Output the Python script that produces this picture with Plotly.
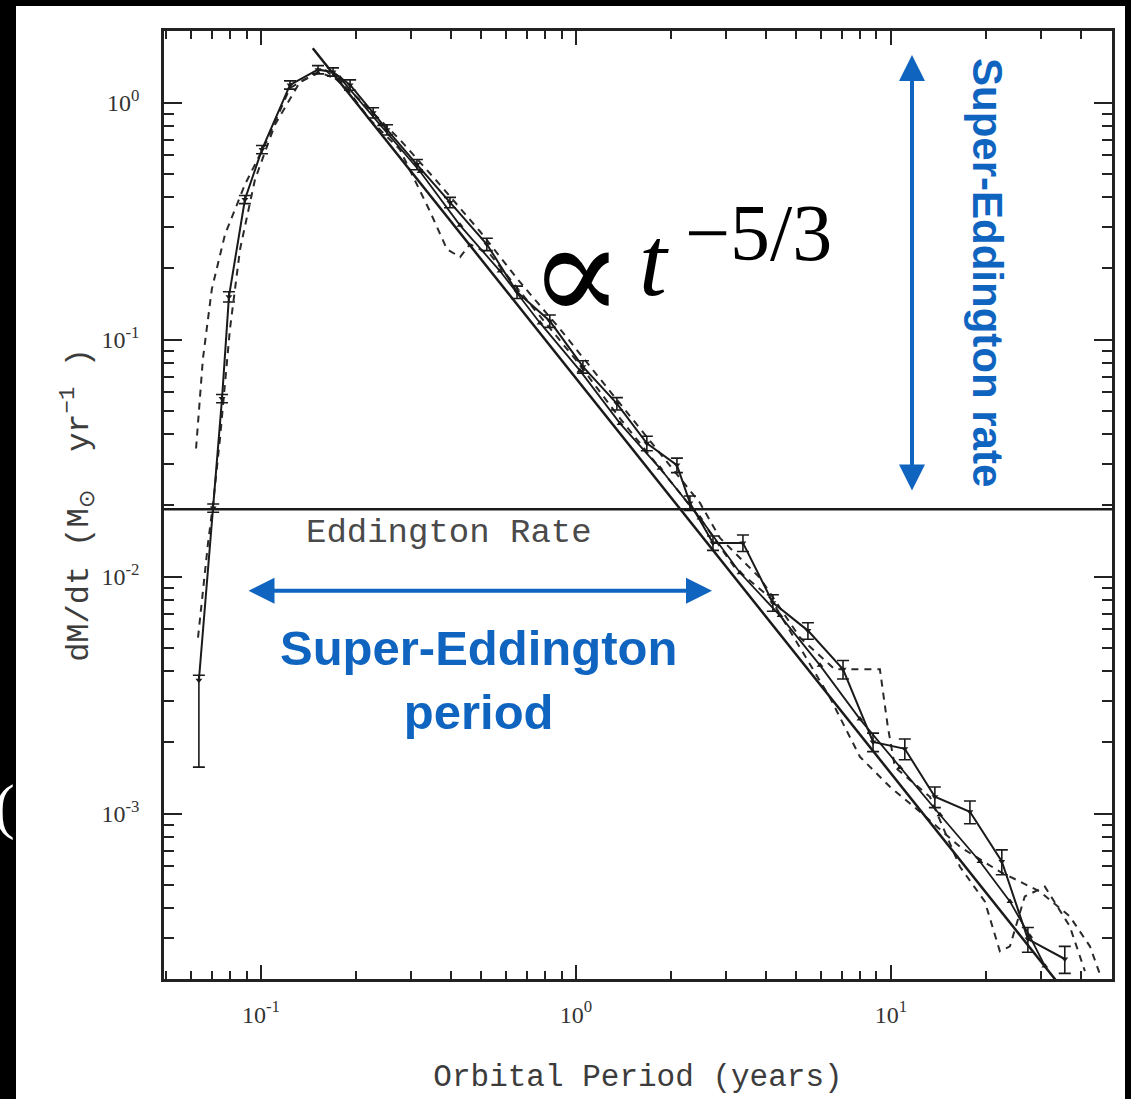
import plotly.graph_objects as go

# ---------------- data ----------------
# main simulation curve (solid, with error bars)
t_main = [0.0635, 0.0705, 0.0752, 0.0791, 0.0889, 0.1007, 0.1236, 0.1517, 0.1693,
          0.1918, 0.2270, 0.2512, 0.3127, 0.3981, 0.5212, 0.6501, 0.8260, 1.052,
          1.349, 1.679, 2.092, 2.301, 2.723, 3.390, 4.218, 5.452, 7.047, 8.776,
          11.07, 13.79, 17.82, 22.50, 27.22, 35.65]
mdot_main = [0.00366, 0.0195, 0.0565, 0.152, 0.391, 0.635, 1.19, 1.38, 1.35,
             1.19, 0.908, 0.770, 0.549, 0.380, 0.253, 0.159, 0.120, 0.0770,
             0.0538, 0.0366, 0.0296, 0.0205, 0.0139, 0.0139, 0.00778, 0.00593, 0.00407, 0.00201,
             0.00188, 0.00118, 0.00102, 0.000629, 0.000296, 0.000244]
err_hi_frac = [0.05, 0.04, 0.04, 0.05, 0.04, 0.04, 0.04, 0.04, 0.04, 0.05, 0.05, 0.05,
               0.05, 0.05, 0.06, 0.06, 0.06, 0.06, 0.06, 0.07, 0.07, 0.07, 0.07, 0.08,
               0.08, 0.08, 0.09, 0.09, 0.10, 0.10, 0.11, 0.12, 0.12, 0.13]
err_lo_frac = [0.57, 0.04, 0.04, 0.05, 0.04, 0.04, 0.04, 0.04, 0.04, 0.05, 0.05, 0.05,
               0.05, 0.05, 0.06, 0.06, 0.06, 0.06, 0.06, 0.07, 0.07, 0.07, 0.07, 0.08,
               0.08, 0.08, 0.09, 0.09, 0.10, 0.10, 0.11, 0.12, 0.12, 0.13]

# second solid curve (close to the power law)
t_second = [0.1782, 0.2388, 0.3199, 0.4285, 0.5741, 0.7691, 1.030, 1.380, 1.849, 2.476,
            3.318, 4.446, 5.957, 7.973, 10.68, 14.31, 19.17, 23.87, 27.61, 30.82]
mdot_second = [1.274, 0.808, 0.5129, 0.3041, 0.1950, 0.1178, 0.0741, 0.0444, 0.0287, 0.0177,
               0.0104, 0.00686, 0.00423, 0.00251, 0.00157, 0.000991, 0.000629, 0.000427,
               0.000304, 0.000228]

# dashed curve 1
t_dash1 = [0.0622, 0.0654, 0.0698, 0.0769, 0.0889, 0.1030, 0.1236, 0.1517, 0.1782, 0.2218,
           0.2761, 0.3440, 0.3893, 0.4285, 0.4603, 0.5333, 0.7145, 0.9932, 1.380, 1.849,
           2.476, 3.199, 4.130, 5.143, 6.398, 7.973, 9.931, 12.36, 16.56, 22.18, 29.72,
           36.98, 42.85, 46.06]
mdot_dash1 = [0.0348, 0.0832, 0.1637, 0.2788, 0.4520, 0.6665, 1.156, 1.349, 1.249, 0.8485,
              0.6346, 0.3483, 0.2412, 0.2233, 0.2531, 0.2298, 0.1417, 0.0832, 0.0466, 0.0287,
              0.0177, 0.0109, 0.00817, 0.00503, 0.00310, 0.00174, 0.00130, 0.00102, 0.000726,
              0.000570, 0.000470, 0.000369, 0.000276, 0.000211]

# dashed curve 2
t_dash2 = [0.0631, 0.0654, 0.0679, 0.0705, 0.0741, 0.0797, 0.0858, 0.0957, 0.1107, 0.1330,
           0.1596, 0.2061, 0.2761, 0.3697, 0.4954, 0.6637, 0.8892, 1.191, 1.596, 2.138,
           2.476, 2.864, 3.837, 5.143, 6.637, 9.226, 9.782, 10.30, 13.30, 16.56, 19.87,
           22.18, 23.87, 26.61, 30.82, 36.98, 41.30]
mdot_dash2 = [0.00554, 0.00899, 0.0139, 0.0205, 0.0384, 0.1112, 0.2412, 0.4748, 0.8083, 1.225,
              1.38, 1.029, 0.6992, 0.452, 0.2871, 0.1754, 0.1112, 0.0686, 0.0423, 0.0261,
              0.0205, 0.0146, 0.00990, 0.00554, 0.00407, 0.00407, 0.00232, 0.00157, 0.00118,
              0.000598, 0.000427, 0.000263, 0.000276, 0.000448, 0.000493, 0.000335, 0.000217]

# t^(-5/3) power law (end points)
t_fit = [0.146, 40.0]
mdot_fit = [1.70, 1.47e-4]

# Eddington rate
t_edd = [0.04, 60.0]
mdot_edd = [0.0193, 0.0193]

# axis ticks
x_major = [0.1, 1, 10]
x_major_text = ["10<sup>-1</sup>", "10<sup>0</sup>", "10<sup>1</sup>"]
x_minor = [0.05, 0.06, 0.07, 0.08, 0.09, 0.2, 0.3, 0.4, 0.5, 0.6, 0.7, 0.8, 0.9,
           2, 3, 4, 5, 6, 7, 8, 9, 20, 30, 40, 50]
y_major = [1e-3, 1e-2, 1e-1, 1]
y_major_text = ["10<sup>-3</sup>", "10<sup>-2</sup>", "10<sup>-1</sup>", "10<sup>0</sup>"]
y_minor = [3e-4, 4e-4, 5e-4, 6e-4, 7e-4, 8e-4, 9e-4,
           2e-3, 3e-3, 4e-3, 5e-3, 6e-3, 7e-3, 8e-3, 9e-3,
           2e-2, 3e-2, 4e-2, 5e-2, 6e-2, 7e-2, 8e-2, 9e-2,
           0.2, 0.3, 0.4, 0.5, 0.6, 0.7, 0.8, 0.9, 2]

# ---------------- figure ----------------
BLUE = "#0F64C0"
INK = "#1a1a1a"
GREY = "#3c3c3c"

fig = go.Figure()

fig.add_trace(go.Scatter(x=t_edd, y=mdot_edd, mode="lines",
                         line=dict(color=INK, width=2.5), showlegend=False, hoverinfo="skip"))
fig.add_trace(go.Scatter(x=t_dash1, y=mdot_dash1, mode="lines",
                         line=dict(color="#2a2a2a", width=2, dash="7px,6px"), showlegend=False))
fig.add_trace(go.Scatter(x=t_dash2, y=mdot_dash2, mode="lines",
                         line=dict(color="#2a2a2a", width=2, dash="7px,6px"), showlegend=False))
fig.add_trace(go.Scatter(x=t_fit, y=mdot_fit, mode="lines",
                         line=dict(color=INK, width=2.5), showlegend=False))
fig.add_trace(go.Scatter(x=t_second, y=mdot_second, mode="lines+markers",
                         line=dict(color=INK, width=1.8),
                         marker=dict(symbol="triangle-up", size=6, color=INK),
                         showlegend=False))
fig.add_trace(go.Scatter(
    x=t_main, y=mdot_main, mode="lines+markers",
    line=dict(color=INK, width=2),
    marker=dict(symbol="triangle-down", size=6, color=INK),
    error_y=dict(type="data", symmetric=False,
                 array=[m * f for m, f in zip(mdot_main, err_hi_frac)],
                 arrayminus=[m * f for m, f in zip(mdot_main, err_lo_frac)],
                 color=INK, thickness=1.6, width=6),
    showlegend=False))

axis_common = dict(type="log", showgrid=False, zeroline=False, showline=True,
                   linecolor="#222222", linewidth=2.5, mirror="ticks",
                   ticks="inside", tickcolor="#222222", tickwidth=2,
                   tickfont=dict(family="Liberation Serif", size=24, color="#333333"))

fig.update_xaxes(**axis_common, range=[-1.308, 1.702], tickmode="array",
                 tickvals=x_major, ticktext=x_major_text, ticklen=14,
                 ticklabelstandoff=12,
                 minor=dict(tickmode="array", tickvals=x_minor, ticks="inside",
                            ticklen=8, tickwidth=2, tickcolor="#222222"),
                 title=dict(text="Orbital Period (years)", standoff=38,
                            font=dict(family="Liberation Mono", size=31, color=GREY)))
fig.update_yaxes(**axis_common, range=[-3.697, 0.303], tickmode="array",
                 tickvals=y_major, ticktext=y_major_text, ticklen=18,
                 ticklabelstandoff=17,
                 minor=dict(tickmode="array", tickvals=y_minor, ticks="inside",
                            ticklen=10, tickwidth=2, tickcolor="#222222"),
                 title=dict(text="dM/dt (M<sub>⊙</sub>  yr<sup>−1</sup> )", standoff=2,
                            font=dict(family="Liberation Mono", size=32, color=GREY)))

annotations = [
    # Eddington label
    dict(text="Eddington Rate", x=(449 - 164) / 948, y=(983 - 535) / 952, xref="paper", yref="paper",
         showarrow=False, font=dict(family="Liberation Mono", size=34, color="#4a4a4a"),
         xanchor="center", yanchor="middle"),
    # power law label
    dict(text="∝", x=(576 - 164) / 948, y=(983 - 274) / 952, xref="paper", yref="paper",
         showarrow=False, font=dict(family="DejaVu Serif", size=140, color="black"),
         xanchor="center", yanchor="middle"),
    dict(text="<i>t</i>", x=(654 - 164) / 948, y=(983 - 262) / 952, xref="paper", yref="paper",
         showarrow=False, font=dict(family="Liberation Serif", size=100, color="black"),
         xanchor="center", yanchor="middle"),
    dict(text="−5/3", x=(758 - 164) / 948, y=(983 - 234) / 952, xref="paper", yref="paper",
         showarrow=False, font=dict(family="Liberation Serif", size=80, color="black"),
         xanchor="center", yanchor="middle"),
    # blue annotations
    dict(text="Super-Eddington rate", x=(987 - 164) / 948, y=(983 - 273) / 952,
         xref="paper", yref="paper", showarrow=False, textangle=90,
         font=dict(family="Liberation Sans", size=42, color=BLUE, weight="bold"),
         xanchor="center", yanchor="middle"),
    dict(text="Super-Eddington<br>period", x=(478 - 164) / 948, y=(983 - 683) / 952,
         xref="paper", yref="paper", showarrow=False, align="center",
         font=dict(family="Liberation Sans", size=49, color=BLUE, weight="bold"),
         xanchor="center", yanchor="middle"),
    dict(text="", x=(912 - 164) / 948, y=(983 - 55) / 952, xref="paper", yref="paper",
         showarrow=True, ax=0, ay=437, axref="pixel", ayref="pixel",
         arrowhead=2, startarrowhead=2, arrowside="end+start",
         arrowsize=1.3, arrowwidth=4, arrowcolor=BLUE, standoff=0, startstandoff=0),
    dict(text="", x=(712 - 164) / 948, y=(983 - 593) / 952, xref="paper", yref="paper",
         showarrow=True, ax=-465, ay=0, axref="pixel", ayref="pixel",
         arrowhead=2, startarrowhead=2, arrowside="end+start",
         arrowsize=1.3, arrowwidth=4, arrowcolor=BLUE, standoff=0, startstandoff=0),
    # white glyph in the left frame (cut by the picture edge, as in the reference)
    dict(text="(", x=(4 - 164) / 948, y=(983 - 810) / 952, xref="paper", yref="paper",
         showarrow=False, font=dict(family="Liberation Serif", size=62, color="white"),
         xanchor="center", yanchor="middle"),
]

fig.update_layout(
    width=1131, height=1099,
    margin=dict(l=164, r=19, t=31, b=116),
    paper_bgcolor="black", plot_bgcolor="white",
    shapes=[dict(type="rect", xref="paper", yref="paper", layer="below",
                 x0=(16 - 164) / 948, x1=(1125 - 164) / 948,
                 y0=(983 - 1105) / 952, y1=(983 - 6) / 952,
                 fillcolor="white", line=dict(width=0))],
    annotations=annotations,
)

fig.write_html("out.html")
